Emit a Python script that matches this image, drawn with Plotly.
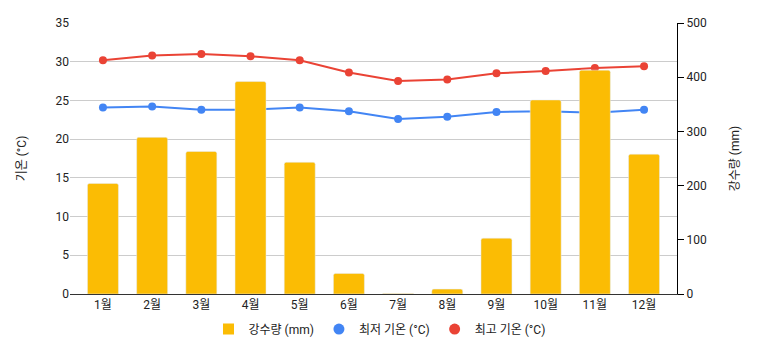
import plotly.graph_objects as go

months = ["1월", "2월", "3월", "4월", "5월", "6월", "7월", "8월", "9월", "10월", "11월", "12월"]
precip = [204, 289, 263, 392, 243, 38, 1, 9, 103, 358, 413, 258]
tmax = [30.2, 30.8, 31.0, 30.7, 30.2, 28.6, 27.5, 27.7, 28.5, 28.8, 29.2, 29.4]
tmin = [24.1, 24.2, 23.8, 23.8, 24.1, 23.6, 22.6, 22.9, 23.5, 23.6, 23.4, 23.8]

YELLOW = "#fbbc04"
BLUE = "#4285f4"
RED = "#ea4335"
FONT = "Roboto, 'Noto Sans CJK KR', sans-serif"

fig = go.Figure()
fig.add_trace(go.Bar(x=months, y=precip, yaxis="y2", marker_color=YELLOW,
                     width=0.63, showlegend=False, name="강수량 (mm)"))
fig.add_trace(go.Scatter(x=months, y=tmin, mode="lines+markers", yaxis="y",
                         line=dict(color=BLUE, width=2), marker=dict(size=8, color=BLUE),
                         showlegend=False, name="최저 기온 (°C)"))
fig.add_trace(go.Scatter(x=months, y=tmax, mode="lines+markers", yaxis="y",
                         line=dict(color=RED, width=2), marker=dict(size=8, color=RED),
                         showlegend=False, name="최고 기온 (°C)"))
# legend entries
fig.add_trace(go.Scatter(x=[None], y=[None], mode="markers", name="강수량 (mm)",
                         marker=dict(symbol="square", size=11, color=YELLOW)))
fig.add_trace(go.Scatter(x=[None], y=[None], mode="markers", name="최저 기온 (°C)",
                         marker=dict(symbol="circle", size=11, color=BLUE)))
fig.add_trace(go.Scatter(x=[None], y=[None], mode="markers", name="최고 기온 (°C)",
                         marker=dict(symbol="circle", size=11, color=RED)))

fig.update_layout(
    width=759, height=352,
    margin=dict(l=70, r=82, t=23, b=58, autoexpand=False),
    paper_bgcolor="white", plot_bgcolor="white",
    font=dict(family=FONT, size=12, color="#222222"),
    barcornerradius=2,
    xaxis=dict(range=[-0.67, 11.67], showgrid=False, showline=True, linecolor="#333333",
               linewidth=1, ticks="", tickfont=dict(size=12, color="#222222"), automargin=False),
    yaxis=dict(range=[0, 35], dtick=5, showgrid=True, gridcolor="#cccccc",
               zeroline=False, showline=False, ticks="", automargin=False,
               title=dict(text="기온 (°C)", font=dict(size=12, color="#222222"), standoff=26),
               tickfont=dict(size=12, color="#222222")),
    yaxis2=dict(range=[0, 500], dtick=100, overlaying="y", side="right", showgrid=False,
                zeroline=False, showline=True, linecolor="#000000", linewidth=1,
                ticks="outside", ticklen=6, tickcolor="#000000", automargin=False,
                title=dict(text="강수량 (mm)", font=dict(size=12, color="#222222"), standoff=24),
                tickfont=dict(size=12, color="#222222")),
    legend=dict(orientation="h", x=0.5, xanchor="center", xref="container",
                y=0.065, yanchor="middle", yref="container",
                font=dict(size=12, color="#222222"), itemwidth=30),
)

fig.write_html("out.html")
